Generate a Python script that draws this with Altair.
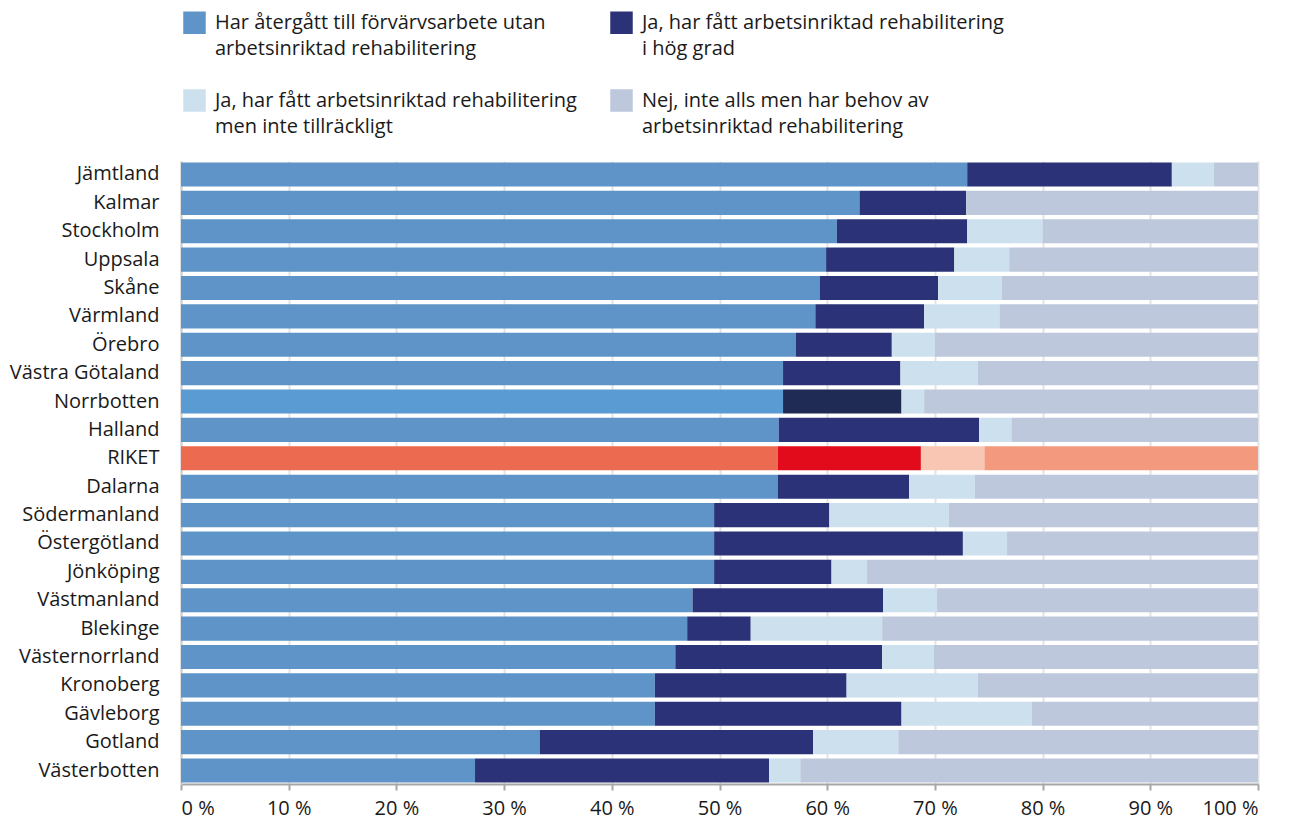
import altair as alt
import pandas as pd

regions = ["Jämtland", "Kalmar", "Stockholm", "Uppsala", "Skåne", "Värmland", "Örebro",
           "Västra Götaland", "Norrbotten", "Halland", "RIKET", "Dalarna", "Södermanland",
           "Östergötland", "Jönköping", "Västmanland", "Blekinge", "Västernorrland",
           "Kronoberg", "Gävleborg", "Gotland", "Västerbotten"]

return_work = [73.0, 63.0, 60.9, 59.9, 59.3, 58.9, 57.1, 55.9, 55.9, 55.5, 55.4, 55.4,
               49.5, 49.5, 49.5, 47.5, 47.0, 45.9, 44.0, 44.0, 33.3, 27.3]
rehab_high = [19.0, 9.9, 12.1, 11.9, 11.0, 10.1, 8.9, 10.9, 11.0, 18.6, 13.3, 12.2,
              10.7, 23.1, 10.9, 17.7, 5.9, 19.2, 17.8, 22.9, 25.4, 27.3]
rehab_insufficient = [3.9, 0.0, 7.0, 5.1, 5.9, 7.0, 4.0, 7.2, 2.1, 3.0, 5.9, 6.1,
                      11.1, 4.1, 3.3, 5.0, 12.2, 4.8, 12.2, 12.1, 7.9, 2.9]
no_rehab_need = [4.1, 27.1, 20.0, 23.1, 23.8, 24.0, 30.0, 26.0, 31.0, 22.9, 25.4, 26.3,
                 28.7, 23.3, 36.3, 29.8, 34.9, 30.1, 26.0, 21.0, 33.4, 42.5]

category_labels = [
    "Har återgått till förvärvsarbete utan|arbetsinriktad rehabilitering",
    "Ja, har fått arbetsinriktad rehabilitering|i hög grad",
    "Ja, har fått arbetsinriktad rehabilitering|men inte tillräckligt",
    "Nej, inte alls men har behov av|arbetsinriktad rehabilitering",
]
base_colors = ["#5E94C8", "#2B3277", "#CDE0EE", "#BDC8DC"]
norrbotten_colors = ["#5A9BD3", "#1F2B55", "#CDE0EE", "#BDC8DC"]
riket_colors = ["#EC6A50", "#E10B1C", "#F8C6B3", "#F39A7E"]

x_ticks = [0, 0.1, 0.2, 0.3, 0.4, 0.5, 0.6, 0.7, 0.8, 0.9, 1.0]

series = [return_work, rehab_high, rehab_insufficient, no_rehab_need]
rows = []
for i, r in enumerate(regions):
    for j in range(4):
        if r == "Norrbotten":
            key = f"Norrbotten:{j}"
        elif r == "RIKET":
            key = f"RIKET:{j}"
        else:
            key = category_labels[j]
        rows.append({"region": r, "cat": j, "value": series[j][i], "key": key})
df = pd.DataFrame(rows)

# legend fills column by column: column 1 = categories 0, 2; column 2 = categories 1, 3
legend_order = [category_labels[0], category_labels[2], category_labels[1], category_labels[3]]
domain = category_labels + [f"Norrbotten:{j}" for j in range(4)] + [f"RIKET:{j}" for j in range(4)]
color_range = base_colors + norrbotten_colors + riket_colors

FONT = "Open Sans"
TXT = "#1a1a1a"
FS = 20


def build(row_pad):
    legend = alt.Legend(values=legend_order, title=None,
                        labelExpr="split(datum.label, '|')",
                        orient="none", legendX=2, legendY=-150,
                        columns=2, columnPadding=33, rowPadding=row_pad,
                        symbolType="square", symbolSize=506,
                        symbolStrokeWidth=0, symbolOpacity=1,
                        labelOffset=9, labelLimit=600,
                        labelFont=FONT, labelFontSize=FS,
                        labelColor=TXT)
    return alt.Chart(df).mark_bar().encode(
        x=alt.X("value:Q", stack="normalize", title=None,
                scale=alt.Scale(domain=[0, 1], nice=False),
                axis=alt.Axis(values=x_ticks, labelExpr="round(datum.value*100) + ' %'",
                              grid=True, gridColor="#e3e3e3", gridWidth=2,
                              domainColor="#a6a6a6", domainWidth=2, tickColor="#a6a6a6",
                              tickWidth=2, tickSize=6, labelPadding=8,
                              labelFont=FONT, labelFontSize=FS, labelColor=TXT)),
        y=alt.Y("region:N", sort=regions, title=None,
                scale=alt.Scale(paddingInner=0.15, paddingOuter=0.05),
                axis=alt.Axis(ticks=False, domainColor="#d0d0d0", domainWidth=2,
                              labelPadding=22, minExtent=173, maxExtent=173,
                              labelFont=FONT, labelFontSize=FS, labelColor=TXT)),
        color=alt.Color("key:N", scale=alt.Scale(domain=domain, range=color_range),
                        legend=legend),
        order=alt.Order("cat:Q", sort="ascending"),
    ).properties(
        width=1077, height=623,
        padding={"left": 0, "top": 3, "right": 30, "bottom": 4},
    )


try:
    chart = build(30).configure(
        style={"guide-label": {"lineHeight": 26}}, view={"stroke": None})
    chart.save("out.html", embed_options={"renderer": "svg", "actions": False})
except Exception:
    chart = build(36).configure_view(stroke=None)
    chart.save("out.html", embed_options={"renderer": "svg", "actions": False})
